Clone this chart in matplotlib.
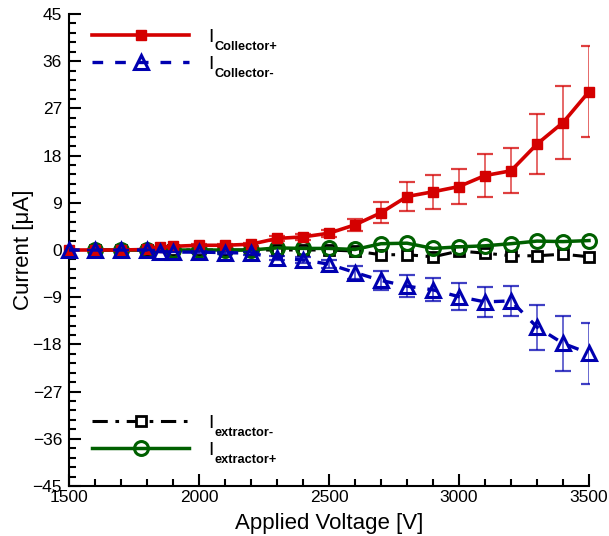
import matplotlib
matplotlib.use("Agg")
import matplotlib.pyplot as plt
from matplotlib.ticker import MultipleLocator
from matplotlib.lines import Line2D

plt.rcParams['font.family'] = ['Liberation Sans', 'DejaVu Sans']

# ---- data ----
volt_c = [1500, 1600, 1700, 1800, 1850, 1900, 2000, 2100, 2200, 2300, 2400,
          2500, 2600, 2700, 2800, 2900, 3000, 3100, 3200, 3300, 3400, 3500]
coll_pos = [0, 0, 0, 0.1, 0.5, 0.7, 0.9, 0.9, 1.1, 2.2, 2.5,
            3.2, 4.8, 7.1, 10.2, 11.1, 12.1, 14.2, 15.1, 20.2, 24.3, 30.2]
coll_pos_err = [0, 0, 0, 0, 0, 0, 0.2, 0.3, 0.3, 0.4, 0.5,
                0.7, 1.2, 2.0, 2.8, 3.2, 3.4, 4.1, 4.3, 5.8, 6.9, 8.7]
coll_neg = [0, 0, 0, 0, -0.3, -0.4, -0.4, -0.5, -0.6, -1.6, -1.9,
            -2.7, -4.3, -5.8, -6.9, -7.6, -8.9, -9.9, -9.7, -14.7, -17.8, -19.7]
coll_neg_err = [0, 0, 0, 0, 0, 0, 0.2, 0.2, 0.3, 0.4, 0.5,
                0.7, 1.2, 1.75, 2.1, 2.2, 2.6, 2.9, 2.9, 4.3, 5.2, 5.8]

volt_e = [1600, 1700, 1800, 1900, 2000, 2100, 2200, 2300, 2400, 2500,
          2600, 2700, 2800, 2900, 3000, 3100, 3200, 3300, 3400, 3500]
extr_neg = [0, 0, 0, 0, 0, 0, 0, 0, 0, 0,
            -0.2, -0.9, -0.9, -1.3, -0.2, -0.6, -1.1, -1.1, -0.8, -1.3]
extr_pos = [0, 0, 0, 0, 0, 0, 0, 0.4, 0.3, 0.3,
            0.1, 1.2, 1.3, 0.3, 0.6, 0.8, 1.2, 1.7, 1.6, 1.8]

legend_top_subs = ['Collector+', 'Collector-']
legend_bot_subs = ['extractor-', 'extractor+']

RED = '#d40000'
BLUE = '#0000b0'
GREEN = '#006000'
BLACK = '#000000'

W, H = 609, 536
fig = plt.figure(figsize=(W / 100, H / 100), dpi=100)
ax = fig.add_axes([69 / W, 1 - 486 / H, (589 - 69) / W, (486 - 14) / H])

st_en = dict(color=BLACK, lw=2.2, ls=(0, (5, 2.5, 1.2, 2.5)), marker='s', ms=7,
             mfc='white', mec=BLACK, mew=2)
st_ep = dict(color=GREEN, lw=2.5, ls='-', marker='o', ms=10, mfc='none',
             mec=GREEN, mew=2.2)
st_cp = dict(color=RED, lw=2.6, marker='s', ms=7.5, mfc=RED, mec=RED)
st_cn = dict(color=BLUE, lw=2.4, ls=(0, (3.2, 3.6)), marker='^', ms=9.5,
             mfc='none', mec=BLUE, mew=2.2)

ax.plot(volt_e, extr_neg, zorder=3, clip_on=False, **st_en)
ax.plot(volt_e, extr_pos, zorder=4, clip_on=False, **st_ep)
ax.errorbar(volt_c, coll_pos, yerr=coll_pos_err, fmt='none', ecolor=RED,
            elinewidth=1.1, capsize=6, capthick=1.6, alpha=0.75, zorder=5)
ax.plot(volt_c, coll_pos, zorder=6, clip_on=False, **st_cp)
ax.errorbar(volt_c, coll_neg, yerr=coll_neg_err, fmt='none', ecolor=BLUE,
            elinewidth=1.1, capsize=6, capthick=1.6, alpha=0.75, zorder=7)
ax.plot(volt_c, coll_neg, zorder=8, clip_on=False, **st_cn)

ax.set_xlim(1500, 3500)
ax.set_ylim(-45, 45)
ax.xaxis.set_major_locator(MultipleLocator(500))
ax.xaxis.set_minor_locator(MultipleLocator(100))
ax.yaxis.set_major_locator(MultipleLocator(9))
ax.yaxis.set_minor_locator(MultipleLocator(1.8))
ax.tick_params(which='both', direction='in', width=1.5, top=False, right=False)
ax.tick_params(which='major', length=8.5, labelsize=12.5)
ax.tick_params(axis='x', which='major', pad=3)
ax.tick_params(axis='y', which='major', pad=5)
ax.tick_params(which='minor', length=5)
for s in ['top', 'right']:
    ax.spines[s].set_visible(False)
for s in ['left', 'bottom']:
    ax.spines[s].set_linewidth(1.5)

ax.set_xlabel('Applied Voltage [V]', fontsize=16, labelpad=6)
ax.set_ylabel('Current [\u03bcA]', fontsize=16, labelpad=-1)

h_cp = Line2D([], [], **st_cp)
h_cn = Line2D([], [], **st_cn)
h_en = Line2D([], [], **st_en)
h_ep = Line2D([], [], **st_ep)

leg_kw = dict(frameon=False, fontsize=14, handlelength=5.0, handletextpad=1.0,
              borderpad=0, borderaxespad=0, labelspacing=0.48, numpoints=1,
              loc='upper left', bbox_transform=fig.transFigure)
leg1 = ax.legend([h_cp, h_cn], ['I', 'I'],
                 bbox_to_anchor=(92 / W, 1 - 28 / H), **leg_kw)
ax.add_artist(leg1)
leg2 = ax.legend([h_en, h_ep], ['I', 'I'],
                 bbox_to_anchor=(92 / W, 1 - 414 / H), **leg_kw)

for leg, subs in [(leg1, legend_top_subs), (leg2, legend_bot_subs)]:
    for txt, sub in zip(leg.get_texts(), subs):
        ax.annotate(sub, xy=(1, 0.5), xycoords=txt, xytext=(0.5, -9),
                    textcoords='offset points', ha='left', va='baseline',
                    fontsize=9.2, fontweight='bold', annotation_clip=False,
                    zorder=20)

fig.savefig('out.png', dpi=100)
